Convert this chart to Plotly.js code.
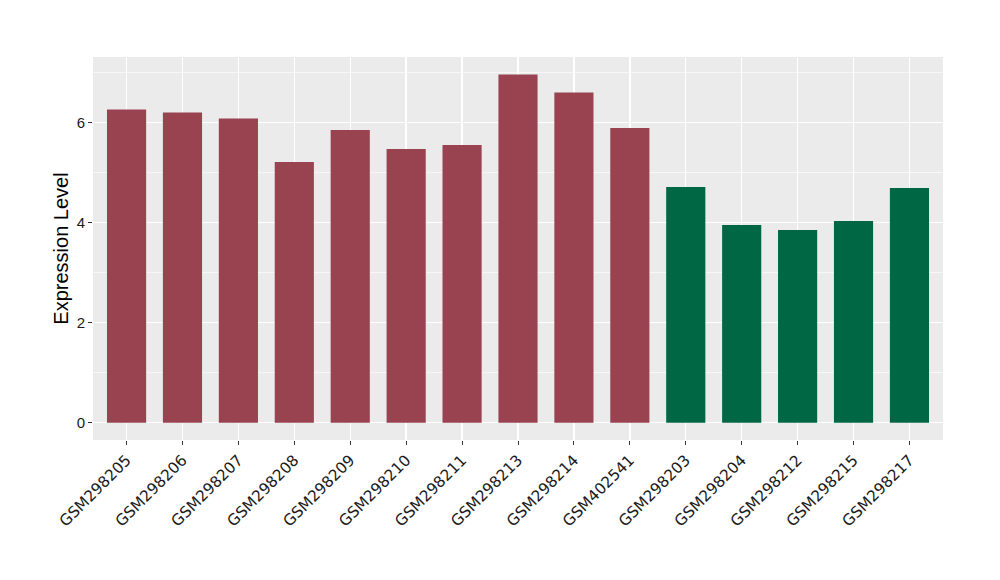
<!DOCTYPE html>
<html>
<head>
<meta charset="utf-8">
<script src="https://cdn.plot.ly/plotly-3.0.1.min.js"></script>
<style>body{margin:0;padding:0;background:#fff}#chart{width:1000px;height:580px}</style>
</head>
<body>
<div id="chart"></div>
<script>
const groupA = ["GSM298205","GSM298206","GSM298207","GSM298208","GSM298209","GSM298210","GSM298211","GSM298213","GSM298214","GSM402541"];
const valuesA = [6.26, 6.20, 6.08, 5.21, 5.85, 5.47, 5.55, 6.96, 6.60, 5.89];
const groupB = ["GSM298203","GSM298204","GSM298212","GSM298215","GSM298217"];
const valuesB = [4.71, 3.95, 3.85, 4.03, 4.69];
const colorA = "#994250";
const colorB = "#006744";

const categories = groupA.concat(groupB);

const traces = [
  {type:"bar", x: groupA, y: valuesA, marker:{color:colorA}, width:0.7, hoverinfo:"x+y"},
  {type:"bar", x: groupB, y: valuesB, marker:{color:colorB}, width:0.7, hoverinfo:"x+y"}
];

const layout = {
  width:1000, height:580,
  margin:{l:93, r:57, t:57, b:140},
  paper_bgcolor:"#ffffff",
  plot_bgcolor:"#ebebeb",
  showlegend:false,
  barmode:"overlay",
  font:{family:"Liberation Sans, Arial, sans-serif", color:"#1a1a1a"},
  xaxis:{
    type:"category",
    categoryorder:"array",
    categoryarray: categories,
    range:[-0.6, 14.6],
    showgrid:true, gridcolor:"#ffffff", gridwidth:1.4,
    zeroline:false, showline:false,
    ticks:"outside", ticklen:4, tickcolor:"#333333", tickwidth:1,
    tickangle:-45,
    tickfont:{family:"DejaVu Sans, sans-serif", size:15.4, color:"#1a1a1a"}
  },
  yaxis:{
    range:[-0.345, 7.31],
    dtick:2, tick0:0,
    showgrid:true, gridcolor:"#ffffff", gridwidth:1.4,
    minor:{dtick:1, tick0:0, showgrid:true, gridcolor:"#ffffff", gridwidth:0.6},
    zeroline:false, showline:false,
    ticks:"outside", ticklen:4, tickcolor:"#333333", tickwidth:1,
    tickfont:{family:"Liberation Sans, Arial, sans-serif", size:15, color:"#1a1a1a"},
    title:{text:"Expression Level", font:{family:"Liberation Sans, Arial, sans-serif", size:20, color:"#000000"}, standoff:2}
  }
};

Plotly.newPlot("chart", traces, layout, {displayModeBar:false, staticPlot:true});
</script>
</body>
</html>
